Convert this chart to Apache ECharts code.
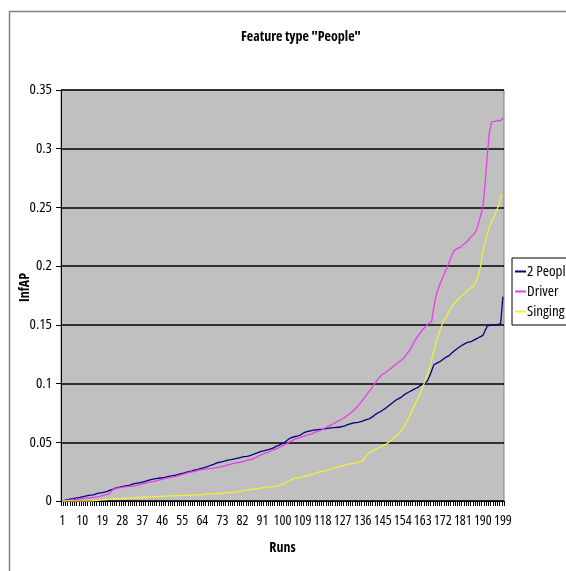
<!DOCTYPE html>
<html>
<head>
<meta charset="utf-8">
<script src="https://cdn.jsdelivr.net/npm/echarts@6/dist/echarts.min.js"></script>
<style>
  html, body { margin: 0; padding: 0; background: #ffffff; }
  #chart { width: 566px; height: 571px; }
</style>
</head>
<body>
<div id="chart"></div>
<script>
// Run numbers along the x axis (1..199)
const runs = Array.from({ length: 199 }, (_, k) => String(k + 1));

const seriesNames = ['2 People', 'Driver', 'Singing'];

const twoPeople = [
  0, 0.0005, 0.001, 0.0013, 0.0017, 0.002, 0.0024, 0.0027, 0.003, 0.0035,
  0.004, 0.0043, 0.0047, 0.005, 0.0052, 0.0058, 0.0064, 0.007, 0.0072, 0.0076,
  0.008, 0.0088, 0.0095, 0.0102, 0.011, 0.0114, 0.0118, 0.0122, 0.0126, 0.013,
  0.0134, 0.014, 0.0145, 0.015, 0.0153, 0.0156, 0.016, 0.0166, 0.0172, 0.0178,
  0.0182, 0.0186, 0.019, 0.0193, 0.0196, 0.0199, 0.0202, 0.0206, 0.021, 0.0214,
  0.0217, 0.022, 0.0225, 0.023, 0.0235, 0.024, 0.0245, 0.025, 0.0254, 0.026,
  0.0265, 0.027, 0.0276, 0.028, 0.0285, 0.029, 0.0298, 0.0305, 0.0312, 0.032,
  0.0326, 0.033, 0.0336, 0.034, 0.0345, 0.035, 0.0352, 0.0356, 0.036, 0.0365,
  0.037, 0.0375, 0.0378, 0.038, 0.0385, 0.039, 0.0398, 0.0405, 0.0412, 0.042,
  0.0425, 0.043, 0.0436, 0.044, 0.0446, 0.0452, 0.0465, 0.0472, 0.048, 0.049,
  0.05, 0.0515, 0.053, 0.054, 0.0545, 0.055, 0.0555, 0.056, 0.0575, 0.0585,
  0.059, 0.0595, 0.06, 0.0603, 0.0606, 0.0608, 0.061, 0.0612, 0.0615, 0.0618,
  0.062, 0.0622, 0.0624, 0.0626, 0.0628, 0.063, 0.0635, 0.064, 0.0648, 0.0655,
  0.066, 0.0665, 0.0668, 0.067, 0.0675, 0.068, 0.0688, 0.0695, 0.07, 0.0712,
  0.0725, 0.074, 0.0752, 0.076, 0.0775, 0.0785, 0.08, 0.0815, 0.083, 0.0845,
  0.086, 0.087, 0.088, 0.0895, 0.091, 0.092, 0.093, 0.094, 0.095, 0.096,
  0.097, 0.0985, 0.0995, 0.1005, 0.102, 0.106, 0.111, 0.116, 0.117, 0.118,
  0.119, 0.1205, 0.122, 0.123, 0.124, 0.126, 0.1275, 0.129, 0.1305, 0.1318,
  0.133, 0.134, 0.135, 0.1355, 0.136, 0.137, 0.138, 0.139, 0.14, 0.141,
  0.145, 0.149, 0.1495, 0.15, 0.15, 0.15, 0.1505, 0.151, 0.174
];

const driver = [
  0, 0.0002, 0.0005, 0.0008, 0.001, 0.0012, 0.0014, 0.0016, 0.0018, 0.002,
  0.0022, 0.0024, 0.0026, 0.0028, 0.003, 0.0033, 0.0036, 0.004, 0.0045, 0.005,
  0.0055, 0.006, 0.008, 0.01, 0.0105, 0.011, 0.0113, 0.0116, 0.012, 0.0123,
  0.0125, 0.0127, 0.0129, 0.013, 0.0135, 0.014, 0.0145, 0.015, 0.0155, 0.016,
  0.0163, 0.0166, 0.017, 0.0175, 0.018, 0.0185, 0.019, 0.0195, 0.02, 0.0203,
  0.0206, 0.021, 0.0215, 0.022, 0.0226, 0.0232, 0.0238, 0.0243, 0.0247, 0.025,
  0.0255, 0.026, 0.0265, 0.027, 0.027, 0.0272, 0.0275, 0.0278, 0.028, 0.0283,
  0.0286, 0.029, 0.0295, 0.03, 0.0305, 0.031, 0.0315, 0.032, 0.0325, 0.0328,
  0.033, 0.0335, 0.034, 0.0345, 0.035, 0.0355, 0.036, 0.037, 0.038, 0.039,
  0.0398, 0.0405, 0.0412, 0.042, 0.0428, 0.0435, 0.0442, 0.045, 0.046, 0.047,
  0.048, 0.049, 0.05, 0.051, 0.052, 0.053, 0.0535, 0.054, 0.0548, 0.0555,
  0.056, 0.0565, 0.057, 0.058, 0.0588, 0.0595, 0.06, 0.061, 0.062, 0.063,
  0.064, 0.065, 0.066, 0.067, 0.068, 0.069, 0.07, 0.0712, 0.0725, 0.074,
  0.0755, 0.0772, 0.079, 0.0812, 0.0835, 0.086, 0.0885, 0.091, 0.0935, 0.096,
  0.099, 0.1015, 0.104, 0.106, 0.108, 0.109, 0.1105, 0.112, 0.1135, 0.115,
  0.1165, 0.118, 0.1195, 0.121, 0.123, 0.1255, 0.128, 0.1315, 0.135, 0.138,
  0.141, 0.1435, 0.146, 0.148, 0.15, 0.1515, 0.153, 0.165, 0.175, 0.181,
  0.186, 0.1905, 0.195, 0.199, 0.204, 0.209, 0.213, 0.2145, 0.2155, 0.216,
  0.218, 0.2195, 0.221, 0.2235, 0.2255, 0.2275, 0.23, 0.236, 0.243, 0.25,
  0.27, 0.295, 0.315, 0.323, 0.3232, 0.3235, 0.3238, 0.324, 0.326
];

const singing = [
  0, 0, 0, 0, 0, 0, 0, 0, 0, 0,
  0, 0, 0, 0, 0.0002, 0.0004, 0.0006, 0.0008, 0.0009, 0.001,
  0.0012, 0.0014, 0.0016, 0.0018, 0.0019, 0.002, 0.0021, 0.0022, 0.0023, 0.0024,
  0.0025, 0.0026, 0.0027, 0.0028, 0.003, 0.003, 0.0031, 0.0032, 0.0033, 0.0034,
  0.0035, 0.0036, 0.0037, 0.0038, 0.004, 0.004, 0.0041, 0.0042, 0.0043, 0.0043,
  0.0044, 0.0045, 0.0045, 0.0046, 0.0047, 0.0048, 0.0049, 0.005, 0.005, 0.0051,
  0.0052, 0.0053, 0.0054, 0.0055, 0.0057, 0.006, 0.006, 0.0061, 0.0062, 0.0063,
  0.0064, 0.0065, 0.0066, 0.0068, 0.007, 0.0072, 0.0074, 0.0076, 0.0078, 0.008,
  0.0083, 0.0086, 0.009, 0.0093, 0.0096, 0.0098, 0.01, 0.0103, 0.0106, 0.011,
  0.0113, 0.0116, 0.0118, 0.012, 0.012, 0.0123, 0.0126, 0.013, 0.0135, 0.0143,
  0.015, 0.016, 0.017, 0.018, 0.019, 0.0195, 0.02, 0.0203, 0.0206, 0.021,
  0.0215, 0.022, 0.0225, 0.023, 0.0237, 0.0244, 0.025, 0.0253, 0.0256, 0.026,
  0.0266, 0.0273, 0.028, 0.0285, 0.029, 0.0295, 0.03, 0.0305, 0.031, 0.0315,
  0.0318, 0.032, 0.0325, 0.033, 0.0335, 0.034, 0.037, 0.04, 0.041, 0.042,
  0.043, 0.044, 0.045, 0.046, 0.047, 0.048, 0.049, 0.0505, 0.052, 0.054,
  0.0555, 0.057, 0.059, 0.0615, 0.064, 0.068, 0.072, 0.076, 0.08, 0.084,
  0.088, 0.092, 0.097, 0.102, 0.1075, 0.113, 0.12, 0.128, 0.135, 0.141,
  0.147, 0.152, 0.155, 0.1585, 0.162, 0.165, 0.168, 0.17, 0.172, 0.174,
  0.1755, 0.177, 0.179, 0.1805, 0.182, 0.1835, 0.187, 0.193, 0.2, 0.213,
  0.22, 0.227, 0.234, 0.238, 0.242, 0.247, 0.251, 0.259, 0.26
];

const yTicks = { min: 0, max: 0.35, step: 0.05 };

// Condensed width of the variable Open Sans face, for a narrow chart lettering
const FONT = "'Open Sans', 'Liberation Sans', sans-serif";
const STRETCH = 'condensed';
const lineColors = ['#000080', '#ea3cea', '#f0f03c'];

function textStyle(size, bold) {
  return {
    fontFamily: FONT,
    fontStyle: STRETCH,
    fontWeight: bold ? 'bold' : 'normal',
    fontSize: size,
    color: '#000'
  };
}

const chart = echarts.init(document.getElementById('chart'), null, { renderer: 'canvas' });

chart.setOption({
  animation: false,
  backgroundColor: '#ffffff',
  graphic: [
    {
      type: 'rect',
      left: 7, top: 9,
      shape: { width: 700, height: 700 },
      style: { fill: 'none', stroke: '#808080', lineWidth: 1.5 },
      z: 0
    }
  ],
  title: {
    text: 'Feature type "People"',
    left: 236,
    top: 25,
    textStyle: textStyle(14, true)
  },
  legend: {
    orient: 'vertical',
    left: 512,
    top: 258,
    data: seriesNames,
    icon: 'rect',
    itemWidth: 11,
    itemHeight: 2,
    itemGap: 5,
    padding: [6, 40, 6, 3],
    borderColor: '#000',
    borderWidth: 1,
    backgroundColor: '#ffffff',
    textStyle: Object.assign(textStyle(15, false), { padding: [0, 0, 0, -4] })
  },
  grid: {
    left: 61,
    right: 62,
    top: 90,
    bottom: 70,
    show: true,
    backgroundColor: '#c0c0c0',
    borderColor: '#808080',
    borderWidth: 1
  },
  xAxis: {
    type: 'category',
    data: runs,
    boundaryGap: true,
    name: 'Runs',
    nameLocation: 'middle',
    nameGap: 40,
    nameMoveOverlap: false,
    nameTextStyle: textStyle(14, true),
    axisLine: { lineStyle: { color: '#000', width: 1 } },
    axisTick: { show: true, interval: 0, length: 5, lineStyle: { color: '#000' } },
    axisLabel: Object.assign(textStyle(14, false), { interval: 8, margin: 13, showMinLabel: true, showMaxLabel: true }),
    splitLine: { show: false }
  },
  yAxis: {
    type: 'value',
    min: yTicks.min,
    max: yTicks.max,
    interval: yTicks.step,
    name: 'InfAP',
    nameLocation: 'middle',
    nameRotate: 90,
    nameGap: 29,
    nameMoveOverlap: false,
    nameTextStyle: Object.assign(textStyle(14, true), { padding: [0, 0, 0, 16] }),
    axisLine: { show: true, lineStyle: { color: '#000', width: 1 } },
    axisTick: { show: true, length: 5, lineStyle: { color: '#000' } },
    axisLabel: Object.assign(textStyle(15, false), { margin: 9 }),
    splitLine: { show: true, lineStyle: { color: '#000', width: 1.5 } }
  },
  series: [
    { name: seriesNames[0], type: 'line', data: twoPeople, symbol: 'none', color: lineColors[0], lineStyle: { width: 1.3 } },
    { name: seriesNames[1], type: 'line', data: driver, symbol: 'none', color: lineColors[1], lineStyle: { width: 1.3 } },
    { name: seriesNames[2], type: 'line', data: singing, symbol: 'none', color: lineColors[2], lineStyle: { width: 1.3 } }
  ]
});
</script>
</body>
</html>
